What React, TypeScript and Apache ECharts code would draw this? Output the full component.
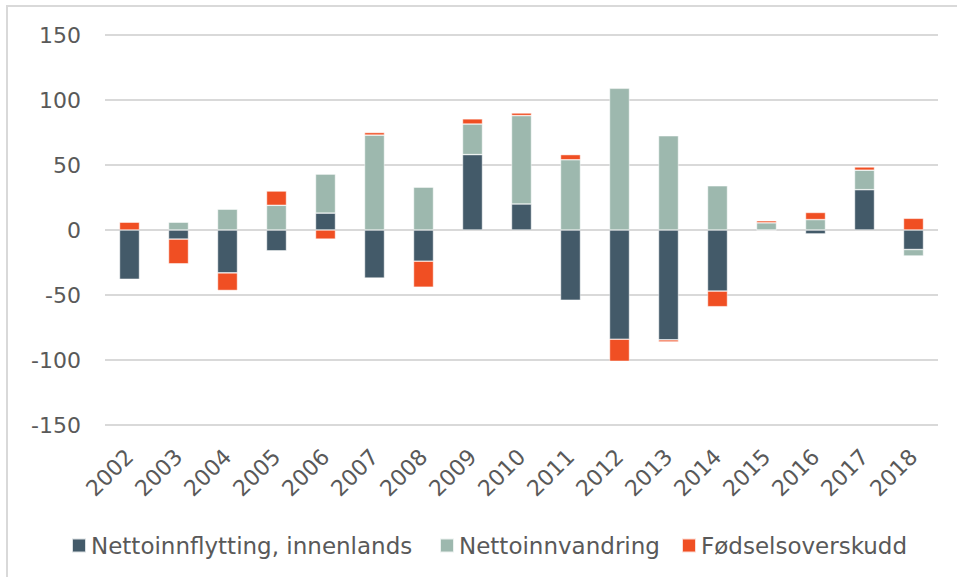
import React, { useEffect, useRef } from "react";
import * as echarts from "echarts";

const years = ["2002","2003","2004","2005","2006","2007","2008","2009","2010","2011","2012","2013","2014","2015","2016","2017","2018"];
const innenlands = [-38, -7, -33, -16, 13, -37, -24, 58, 20, -54, -84, -84.5, -47, 0, -3, 31, -15];
const innvandring = [0, 6, 16, 19, 30, 73, 33, 23.5, 68, 54, 109, 72.5, 34, 5.5, 8, 15, -5];
const fodsel = [6, -19, -13.5, 11, -7, 2, -20, 4, 2, 4, -17, -1.6, -12, 1.6, 5.5, 2.5, 9];
const seriesNames = ["Nettoinnflytting, innenlands", "Nettoinnvandring", "Fødselsoverskudd"];
const colors = ["#435a69", "#9db8ae", "#f04f23"];

export default function App() {
  const ref = useRef<HTMLDivElement>(null);
  useEffect(() => {
    document.body.style.margin = "0";
    const chart = echarts.init(ref.current!, undefined, { renderer: "svg" });
    const font = "DejaVu Sans";
    const mk = (name: string, data: number[], color: string) => ({
      name,
      type: "bar",
      stack: "total",
      data,
      barWidth: 20,
      itemStyle: { color, borderColor: "rgba(255,255,255,0.8)", borderWidth: 0.6 },
    });
    const legendAt = (name: string, left: number) => ({
      left,
      top: 529,
      itemWidth: 14,
      itemHeight: 14,
      icon: "rect",
      textStyle: { fontSize: 23, color: "#595959", fontFamily: font },
      data: [name],
    });
    chart.setOption({
      animation: false,
      color: colors,
      textStyle: { fontFamily: font },
      graphic: [
        {
          type: "rect",
          shape: { x: 7, y: 6, width: 980, height: 600 },
          style: { fill: "none", stroke: "#d9d9d9", lineWidth: 2 },
          silent: true,
          z: -10,
        },
      ],
      grid: { left: 105, right: 19, top: 35, bottom: 152 },
      legend: [
        legendAt(seriesNames[0], 66),
        legendAt(seriesNames[1], 434),
        legendAt(seriesNames[2], 676),
      ],
      xAxis: {
        type: "category",
        data: years,
        axisLine: { show: false },
        axisTick: { show: false },
        axisLabel: { rotate: 45, fontSize: 22, color: "#595959", margin: 28, interval: 0, fontFamily: font },
      },
      yAxis: {
        type: "value",
        min: -150,
        max: 150,
        interval: 50,
        axisLine: { show: false },
        axisTick: { show: false },
        axisLabel: { fontSize: 22, color: "#595959", margin: 24, fontFamily: font },
        splitLine: { lineStyle: { color: "#d9d9d9", width: 2 } },
      },
      series: [
        mk(seriesNames[0], innenlands, colors[0]),
        mk(seriesNames[1], innvandring, colors[1]),
        mk(seriesNames[2], fodsel, colors[2]),
      ],
    });
    return () => chart.dispose();
  }, []);
  return <div ref={ref} style={{ width: 957, height: 577 }} />;
}
